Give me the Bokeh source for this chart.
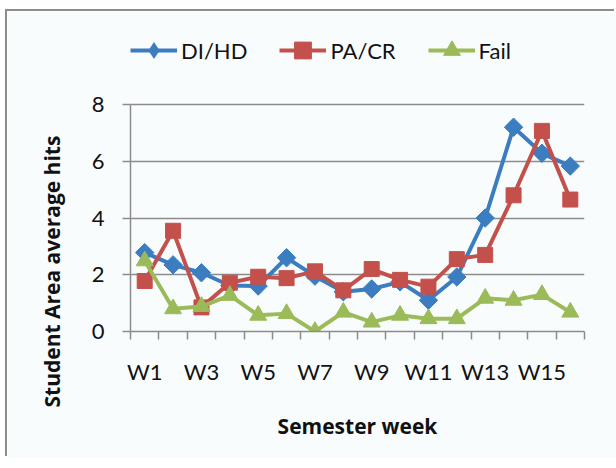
import math
from bokeh.plotting import figure
from bokeh.models import (Range1d, FixedTicker, Legend, LegendItem, Title,
                          ColumnDataSource, InlineStyleSheet)
from bokeh.embed import file_html
from bokeh.resources import INLINE

weeks = ["W1", "W2", "W3", "W4", "W5", "W6", "W7", "W8",
         "W9", "W10", "W11", "W12", "W13", "W14", "W15", "W16"]
di_hd = [2.78, 2.35, 2.07, 1.62, 1.6, 2.6, 1.95, 1.4,
         1.5, 1.75, 1.1, 1.92, 4.0, 7.2, 6.28, 5.83]
pa_cr = [1.78, 3.55, 0.85, 1.72, 1.93, 1.88, 2.12, 1.45,
         2.2, 1.82, 1.58, 2.55, 2.7, 4.8, 7.07, 4.65]
fail = [2.49, 0.8, 0.88, 1.27, 0.57, 0.63, 0.0, 0.68,
        0.33, 0.57, 0.45, 0.45, 1.17, 1.1, 1.3, 0.68]
y_ticks = [0, 2, 4, 6, 8]
series_names = ["DI/HD", "PA/CR", "Fail"]
colors = ["#3B7DC0", "#C4504C", "#9BBB59"]

FONT = "Lato"
TFONT = "Open Sans"
GRID = "#8C8C8C"
BG = "#F8FCFD"

x = list(range(1, len(weeks) + 1))
y_max = max(y_ticks)

# layout (pixels): the frame extends above the 0..8 data area to host the legend
W, H = 609, 447
ML, MR, MT = 123, 32, 13
data_h = 227                   # pixels from 0 to 8
frame_h = 307
MB = H - MT - frame_h
y_top = y_max * frame_h / data_h

p = figure(width=W, height=H, output_backend="svg", toolbar_location=None,
           x_range=Range1d(0.5, len(weeks) + 0.5), y_range=Range1d(0, y_top),
           min_border_left=ML, min_border_right=MR,
           min_border_top=MT, min_border_bottom=MB)
p.margin = (11, 0, 0, 7)
p.stylesheets = [InlineStyleSheet(
    css=":host { box-shadow: -2px -2px 0 0 #8C8C8C; vertical-align: top; }")]
p.background_fill_color = BG
p.border_fill_color = BG
p.outline_line_color = None

# x axis: labels on odd weeks, tick marks at category boundaries (minor ticks)
xt = FixedTicker(ticks=x[::2], minor_ticks=[i + 0.5 for i in range(0, len(weeks) + 1)])
p.xaxis.ticker = xt
p.xaxis.major_label_overrides = {xi: weeks[xi - 1] for xi in x[::2]}
p.xaxis.major_tick_out = 0
p.xaxis.major_tick_in = 0
p.xaxis.minor_tick_out = 8
p.xaxis.minor_tick_in = 0
p.xaxis.minor_tick_line_color = GRID
p.xaxis.minor_tick_line_width = 1.5
p.xaxis.axis_line_color = GRID
p.xaxis.axis_line_width = 1.5
p.xaxis.major_label_standoff = 18
p.xaxis.major_label_text_font = FONT
p.xaxis.major_label_text_font_size = "22px"
p.xaxis.major_label_text_color = "#111111"
p.xaxis.axis_label = "Semester week"
p.xaxis.axis_label_text_font = TFONT
p.xaxis.axis_label_text_font_size = "21px"
p.xaxis.axis_label_text_font_style = "bold"
p.xaxis.axis_label_text_color = "#111111"
p.xaxis.axis_label_standoff = 24

p.yaxis.ticker = FixedTicker(ticks=y_ticks)
p.yaxis.bounds = (0, y_max)
p.yaxis.minor_tick_line_color = None
p.yaxis.major_tick_out = 8
p.yaxis.major_tick_in = 0
p.yaxis.major_tick_line_color = GRID
p.yaxis.major_tick_line_width = 1.5
p.yaxis.axis_line_color = GRID
p.yaxis.axis_line_width = 1.5
p.yaxis.major_label_standoff = 18
p.yaxis.major_label_text_font = FONT
p.yaxis.major_label_text_font_size = "22px"
p.yaxis.major_label_text_color = "#111111"

p.xgrid.grid_line_color = None
p.ygrid.ticker = FixedTicker(ticks=y_ticks)
p.ygrid.grid_line_color = GRID
p.ygrid.grid_line_width = 1.5

ytitle = Title(text="Student Area average hits", align="left", offset=-76,
               vertical_align="middle", standoff=44, text_font=TFONT,
               text_font_size="21px", text_font_style="bold", text_color="#111111")
p.add_layout(ytitle, "left")

items = []
src1 = ColumnDataSource(dict(x=x, y=di_hd))
l1 = p.line("x", "y", source=src1, line_color=colors[0], line_width=4, line_join="round")
# diamond markers (rotated squares) on the chart
p.scatter("x", "y", source=src1, marker="square", angle=math.pi / 4, size=13,
          fill_color=colors[0], line_color=colors[0])
# zero-size diamond companion: only its legend glyph is drawn
k1 = p.scatter("x", "y", source=src1, marker="diamond", size=0, fill_color=colors[0],
               line_color=colors[0], line_width=0)
items.append(LegendItem(label=series_names[0], renderers=[l1, k1]))

src2 = ColumnDataSource(dict(x=x, y=pa_cr))
l2 = p.line("x", "y", source=src2, line_color=colors[1], line_width=4, line_join="round")
m2 = p.scatter("x", "y", source=src2, marker="square", size=15, fill_color=colors[1],
               line_color=colors[1])
items.append(LegendItem(label=series_names[1], renderers=[l2, m2]))

src3 = ColumnDataSource(dict(x=x, y=fail))
l3 = p.line("x", "y", source=src3, line_color=colors[2], line_width=4, line_join="round")
m3 = p.scatter("x", "y", source=src3, marker="triangle", size=17, fill_color=colors[2],
               line_color=colors[2])
items.append(LegendItem(label=series_names[2], renderers=[l3, m3]))

legend = Legend(items=items, orientation="horizontal", location=(0, 260),
                glyph_width=47, glyph_height=42, label_standoff=4, spacing=32,
                padding=0, margin=0, background_fill_alpha=0, border_line_alpha=0,
                label_text_font=FONT, label_text_font_size="22px",
                label_text_color="#111111")
p.add_layout(legend)

open("out.html", "w").write(file_html(p, INLINE))
